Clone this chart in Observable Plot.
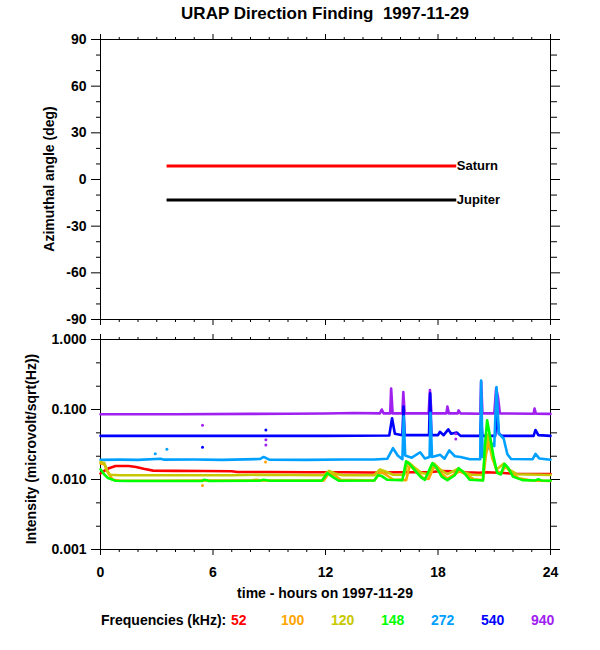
<!DOCTYPE html>
<html><head><meta charset="utf-8">
<script src="https://cdn.jsdelivr.net/npm/d3@7"></script>
<script src="https://cdn.jsdelivr.net/npm/@observablehq/plot@0.6"></script>
<style>
html,body{margin:0;padding:0;background:#fff;}
#wrap{position:relative;width:600px;height:650px;overflow:hidden;font-family:"Liberation Sans",Arial,Helvetica,sans-serif;font-weight:bold;color:#000;background:#fff;}
.abs{position:absolute;white-space:pre;line-height:1;}
.svgbox{position:absolute;left:0;}
</style></head><body><div id="wrap"></div>
<script>
// ---------- labels ----------
const titleText = "URAP Direction Finding  1997-11-29";
const topYLabel = "Azimuthal angle (deg)";
const botYLabel = "Intensity (microvolt/sqrt(Hz))";
const xLabel = "time - hours on 1997-11-29";
const legendTitle = "Frequencies (kHz):";

// ---------- ticks ----------
const hourMajor = [0, 6, 12, 18, 24];
const hourMinor = [1,2,3,4,5,7,8,9,10,11,13,14,15,16,17,19,20,21,22,23];
const angleMajor = [-90, -60, -30, 0, 30, 60, 90];
const angleMinor = [-80,-70,-50,-40,-20,-10,10,20,40,50,70,80];
const decades = [0.001, 0.01, 0.1, 1];
const logMinor = [0.00215, 0.00464, 0.0215, 0.0464, 0.215, 0.464];

// ---------- top panel: planet directions ----------
const planetNames = ["Saturn", "Jupiter"];
const planetAngle = [8.6, -13.2];
const planetStart = [3.55, 3.55];
const planetEnd = [19.0, 19.0];
const planetColor = ["#ff0000", "#000000"];

// ---------- bottom panel: intensity series [hour, value] ----------
const freqLabels = ["52", "100", "120", "148", "272", "540", "940"];
const freqColors = ["#ff0000", "#ffa500", "#c8c800", "#00ff00", "#00a0ff", "#0000ff", "#a020f0"];

const s52 = [[0,0.0122],[0.2,0.0133],[0.45,0.0145],[0.8,0.0156],[1.5,0.0156],[1.9,0.0151],[2.3,0.0142],[2.8,0.0134],[4,0.0133],[5.5,0.0132],[7,0.0131],[7.3,0.0128],[9,0.0128],[11,0.0127],[13,0.0127],[14.5,0.0126],[16,0.0127],[17.5,0.0127],[18.2,0.0132],[18.8,0.0131],[19.5,0.0127],[20.2,0.0125],[20.6,0.0127],[21.5,0.0124],[22,0.0121],[24,0.012]];
const s100 = [[0,0.017],[0.2,0.0165],[0.4,0.0125],[0.65,0.0099],[1,0.0097],[3,0.0096],[5.4,0.0097],[8,0.0097],[8.3,0.0099],[8.6,0.0097],[11.9,0.0097],[12.2,0.0125],[12.5,0.0115],[12.8,0.0099],[14.6,0.0097],[14.95,0.0128],[15.2,0.0118],[15.6,0.01],[16.3,0.0098],[16.5,0.0162],[16.8,0.0132],[17.2,0.0106],[17.5,0.0102],[17.8,0.0155],[18.1,0.0128],[18.5,0.0103],[19.15,0.0132],[19.5,0.0117],[19.9,0.0101],[20.4,0.0098],[20.55,0.022],[20.7,0.035],[20.9,0.02],[21.2,0.0125],[21.4,0.0128],[21.6,0.0155],[21.9,0.0125],[22.3,0.0104],[23,0.0097],[24,0.0095]];
const s120 = [[0,0.0178],[0.2,0.0172],[0.35,0.0135],[0.5,0.0117],[1,0.0115],[4,0.0115],[7,0.0115],[8.5,0.0117],[11.9,0.0115],[12.2,0.0133],[12.5,0.0122],[12.9,0.0115],[14.6,0.0115],[14.9,0.0139],[15.2,0.013],[15.6,0.0117],[16.2,0.0116],[16.4,0.0178],[16.7,0.0152],[17.1,0.0125],[17.5,0.0118],[17.8,0.0168],[18.1,0.014],[18.5,0.0119],[19.05,0.0142],[19.4,0.0126],[19.8,0.0117],[20.4,0.0116],[20.55,0.03],[20.7,0.045],[20.85,0.025],[21.1,0.0138],[21.5,0.0168],[21.8,0.0138],[22.2,0.0119],[24,0.0116]];
const s148 = [[0,0.014],[0.2,0.0118],[0.4,0.0105],[0.8,0.0096],[1.5,0.0095],[4,0.0095],[5.4,0.0095],[5.55,0.0099],[5.8,0.0095],[8.5,0.0096],[8.7,0.0099],[9,0.0096],[11.8,0.0096],[12.1,0.0123],[12.4,0.0108],[12.7,0.0096],[14.6,0.0097],[14.8,0.0115],[15.0,0.0112],[15.3,0.0099],[16.1,0.0098],[16.3,0.0182],[16.5,0.0165],[16.8,0.0132],[17.1,0.0107],[17.3,0.0099],[17.7,0.0172],[17.9,0.015],[18.2,0.011],[18.5,0.0098],[18.9,0.0115],[19.1,0.0145],[19.35,0.0128],[19.7,0.0099],[20.4,0.0097],[20.5,0.03],[20.62,0.07],[20.75,0.045],[20.95,0.022],[21.15,0.0125],[21.35,0.0118],[21.55,0.0168],[21.75,0.0145],[22,0.011],[22.5,0.0098],[23.2,0.0097],[23.35,0.0101],[23.5,0.0097],[24,0.0096]];
const s272 = [[0,0.0191],[1,0.0192],[2,0.0191],[3.2,0.0198],[3.4,0.0192],[5,0.0193],[6.5,0.0191],[8.5,0.0196],[8.7,0.021],[9,0.0192],[11,0.0191],[13,0.0193],[14.6,0.0193],[15.3,0.0198],[15.6,0.028],[15.85,0.022],[16.1,0.0195],[16.17,0.08],[16.25,0.022],[16.6,0.0205],[17.05,0.0245],[17.3,0.02],[17.55,0.021],[17.6,0.09],[17.68,0.021],[18.12,0.0225],[18.35,0.0198],[18.6,0.026],[18.9,0.0215],[19.2,0.021],[19.7,0.0195],[20.25,0.0195],[20.3,0.26],[20.38,0.021],[20.6,0.026],[20.8,0.034],[21.0,0.03],[21.12,0.21],[21.25,0.045],[21.5,0.0385],[21.7,0.023],[21.9,0.0196],[23.05,0.0195],[23.2,0.0232],[23.4,0.02],[24,0.0192]];
const s540 = [[0,0.042],[3,0.042],[6,0.042],[9,0.042],[12,0.042],[15.4,0.0425],[15.55,0.075],[15.7,0.045],[16.1,0.043],[16.16,0.11],[16.22,0.043],[17.52,0.043],[17.58,0.17],[17.65,0.043],[18.0,0.043],[18.1,0.048],[18.3,0.043],[18.55,0.052],[18.7,0.045],[19.0,0.047],[19.2,0.042],[20.25,0.042],[20.3,0.08],[20.36,0.042],[21.05,0.042],[21.14,0.09],[21.25,0.045],[21.4,0.042],[23.1,0.042],[23.2,0.051],[23.35,0.043],[24,0.042]];
const s940 = [[0,0.0857],[4,0.0857],[8,0.0865],[10,0.087],[12,0.0875],[13.5,0.089],[14.9,0.088],[15.0,0.1],[15.1,0.088],[15.45,0.088],[15.5,0.2],[15.58,0.088],[16.1,0.088],[16.15,0.178],[16.22,0.088],[17.5,0.088],[17.57,0.19],[17.65,0.088],[18.45,0.088],[18.5,0.11],[18.58,0.088],[19.05,0.088],[19.1,0.097],[19.2,0.088],[20.25,0.087],[20.3,0.25],[20.37,0.088],[21.0,0.088],[21.1,0.2],[21.2,0.15],[21.3,0.088],[23.1,0.087],[23.15,0.103],[23.22,0.087],[24,0.0865]];
const seriesList = [s52, s100, s120, s148, s272, s540, s940];
const drawOrder = [6, 5, 4, 0, 1, 2, 3];

// isolated points
const outHour = [5.44, 5.44, 5.44, 8.82, 8.82, 8.82, 8.8, 2.92, 3.54, 18.95, 18.95];
const outValue = [0.0597, 0.029, 0.0082, 0.051, 0.037, 0.031, 0.0178, 0.0233, 0.027, 0.045, 0.038];
const outFreq = [6, 5, 1, 5, 6, 6, 1, 4, 4, 6, 6];

// ---------- build ----------
const FONT = '"Liberation Sans", Arial, Helvetica, sans-serif';
const wrap = document.getElementById("wrap");
const baseStyle = {fontFamily: FONT, fontSize: "14px", fontWeight: "bold", background: "white", color: "black", overflow: "visible"};
const blank = () => "";

function frameTicks(yMajor, yMinor, yFmt, xLabelled) {
  return [
    Plot.frame({stroke: "black"}),
    Plot.axisY(yMajor, {anchor: "left", tickSize: 9, tickPadding: 5, tickFormat: yFmt, label: null}),
    Plot.axisY(yMinor, {anchor: "left", tickSize: 4, tickFormat: blank, label: null}),
    Plot.axisY(yMajor, {anchor: "right", tickSize: 9, tickFormat: blank, label: null}),
    Plot.axisY(yMinor, {anchor: "right", tickSize: 6, tickFormat: blank, label: null}),
    Plot.axisX(hourMajor, {anchor: "top", tickSize: 6, tickFormat: blank, label: null}),
    Plot.axisX(hourMinor, {anchor: "top", tickSize: 3, tickFormat: blank, label: null}),
    Plot.axisX(hourMajor, {anchor: "bottom", tickSize: 6, tickPadding: 12, tickFormat: xLabelled ? (d => String(d)) : blank, label: null}),
    Plot.axisX(hourMinor, {anchor: "bottom", tickSize: 3, tickFormat: blank, label: null})
  ];
}

const topPlot = Plot.plot({
  width: 600, height: 330,
  marginLeft: 100, marginRight: 50, marginTop: 39, marginBottom: 11,
  x: {domain: [0, 24]},
  y: {domain: [-90, 90]},
  style: baseStyle,
  marks: [
    ...frameTicks(angleMajor, angleMinor, d => String(d), false),
    Plot.ruleY(d3.range(planetNames.length), {
      y: i => planetAngle[i], x1: i => planetStart[i], x2: i => planetEnd[i],
      stroke: i => planetColor[i], strokeWidth: 3
    }),
    Plot.text(d3.range(planetNames.length), {
      x: i => planetEnd[i], y: i => planetAngle[i], text: i => planetNames[i],
      textAnchor: "start", lineAnchor: "middle", fill: "black", fontSize: 13
    })
  ]
});

const botPlot = Plot.plot({
  width: 600, height: 320,
  marginLeft: 100, marginRight: 50, marginTop: 9, marginBottom: 101,
  x: {domain: [0, 24]},
  y: {type: "log", domain: [0.001, 1]},
  style: baseStyle,
  marks: [
    ...frameTicks(decades, logMinor, d3.format(".3f"), true),
    ...drawOrder.map(k => Plot.line(seriesList[k], {
      x: d => d[0], y: d => d[1], stroke: freqColors[k], strokeWidth: 2.6
    })),
    Plot.dot(d3.range(outHour.length), {
      x: i => outHour[i], y: i => outValue[i], fill: i => freqColors[outFreq[i]], r: 1.5, stroke: "none"
    })
  ]
});

function place(node, top) {
  const box = document.createElement("div");
  box.className = "svgbox";
  box.style.top = top + "px";
  box.appendChild(node);
  wrap.appendChild(box);
}
place(topPlot, 0);
place(botPlot, 330);

function addText(txt, css, color) {
  const d = document.createElement("div");
  d.className = "abs";
  d.textContent = txt;
  Object.assign(d.style, css);
  if (color) d.style.color = color;
  wrap.appendChild(d);
  return d;
}
addText(titleText, {left: "325px", top: "5px", fontSize: "17px", transform: "translateX(-50%)"});
addText(topYLabel, {left: "49px", top: "179px", fontSize: "14px", transform: "translate(-50%,-50%) rotate(-90deg)"});
addText(botYLabel, {left: "31px", top: "449px", fontSize: "14px", transform: "translate(-50%,-50%) rotate(-90deg)"});
addText(xLabel, {left: "325px", top: "586px", fontSize: "14px", transform: "translateX(-50%)"});
addText(legendTitle, {left: "101px", top: "613px", fontSize: "14px"});
freqLabels.forEach((f, i) => addText(f, {left: (231 + 50 * i) + "px", top: "613px", fontSize: "14px"}, freqColors[i]));
</script></body></html>
